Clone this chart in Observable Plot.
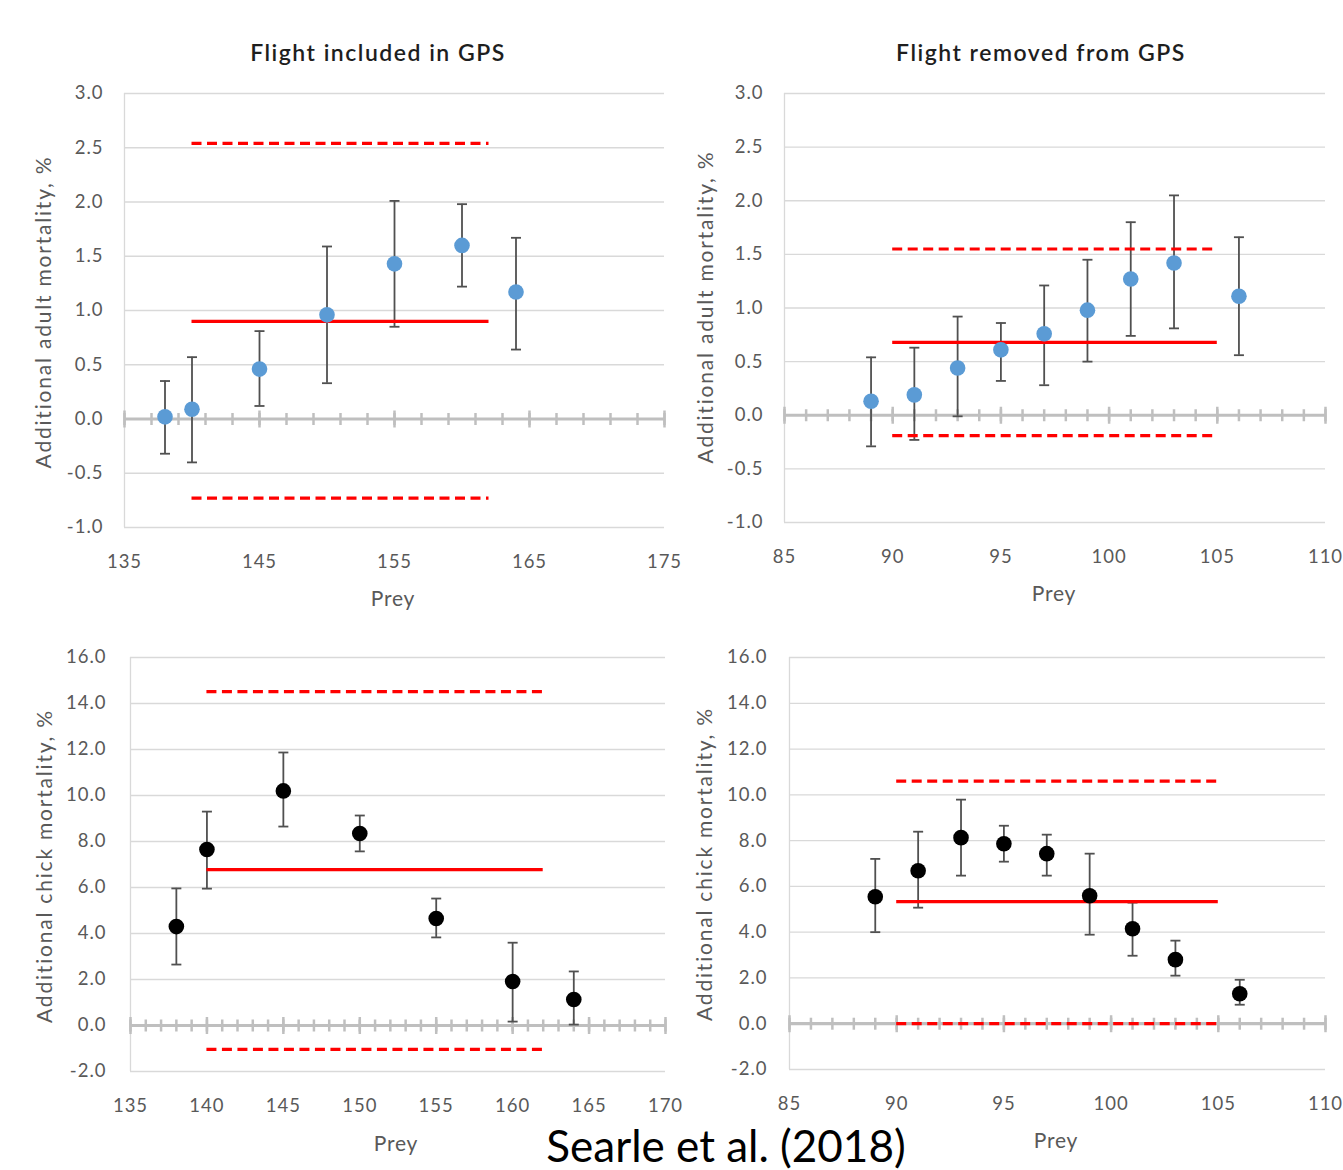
<!DOCTYPE html>
<html>
<head>
<meta charset="utf-8">
<script src="https://cdn.jsdelivr.net/npm/d3@7"></script>
<script src="https://cdn.jsdelivr.net/npm/@observablehq/plot@0.6"></script>
<style>
  html, body { margin: 0; padding: 0; background: #fff; }
  #wrap { position: relative; width: 1343px; height: 1170px; overflow: hidden; background: #fff; }
  .panel { position: absolute; }
  .panel svg text { letter-spacing: 1px; }
  #overlay { position: absolute; left: 0; top: 0; pointer-events: none; }
</style>
</head>
<body>
<div id="wrap">
  <div class="panel" id="p1" style="left:0px;top:70px"></div>
  <div class="panel" id="p2" style="left:680px;top:70px"></div>
  <div class="panel" id="p3" style="left:0px;top:630px"></div>
  <div class="panel" id="p4" style="left:680px;top:630px"></div>
  <svg id="overlay" width="1343" height="1170"></svg>
</div>
<script>
// ---------- DATA ----------
// Adult mortality, flight included in GPS
const adultInPrey = [138, 140, 145, 150, 155, 160, 164];
const adultInMean = [0.02, 0.09, 0.46, 0.96, 1.43, 1.60, 1.17];
const adultInLo   = [-0.32, -0.40, 0.12, 0.33, 0.85, 1.22, 0.64];
const adultInHi   = [0.35, 0.57, 0.81, 1.59, 2.01, 1.98, 1.67];
const adultInRef  = { mean: 0.90, upper: 2.54, lower: -0.73, from: 140, to: 162 };

// Adult mortality, flight removed from GPS
const adultOutPrey = [89, 91, 93, 95, 97, 99, 101, 103, 106];
const adultOutMean = [0.13, 0.19, 0.44, 0.61, 0.76, 0.98, 1.27, 1.42, 1.11];
const adultOutLo   = [-0.29, -0.23, -0.01, 0.32, 0.28, 0.50, 0.74, 0.81, 0.56];
const adultOutHi   = [0.54, 0.63, 0.92, 0.86, 1.21, 1.45, 1.80, 2.05, 1.66];
const adultOutRef  = { mean: 0.68, upper: 1.55, lower: -0.19, from: 90, to: 105 };

// Chick mortality, flight included in GPS
const chickInPrey = [138, 140, 145, 150, 155, 160, 164];
const chickInMean = [4.30, 7.65, 10.20, 8.35, 4.65, 1.91, 1.13];
const chickInLo   = [2.65, 5.95, 8.65, 7.57, 3.83, 0.17, 0.04];
const chickInHi   = [5.96, 9.30, 11.87, 9.13, 5.52, 3.60, 2.35];
const chickInRef  = { mean: 6.78, upper: 14.52, lower: -1.04, from: 140, to: 162 };

// Chick mortality, flight removed from GPS
const chickOutPrey = [89, 91, 93, 95, 97, 99, 101, 103, 106];
const chickOutMean = [5.55, 6.68, 8.13, 7.86, 7.43, 5.59, 4.15, 2.80, 1.31];
const chickOutLo   = [4.00, 5.07, 6.47, 7.08, 6.47, 3.89, 2.97, 2.10, 0.83];
const chickOutHi   = [7.20, 8.39, 9.79, 8.65, 8.26, 7.43, 5.29, 3.63, 1.92];
const chickOutRef  = { mean: 5.33, upper: 10.60, lower: 0.00, from: 90, to: 105 };

// Tick labels
const yTicksAdult = [-1.0, -0.5, 0.0, 0.5, 1.0, 1.5, 2.0, 2.5, 3.0];
const yTicksChick = [-2.0, 0.0, 2.0, 4.0, 6.0, 8.0, 10.0, 12.0, 14.0, 16.0];
const xTicksIn1 = [135, 145, 155, 165, 175];
const xTicksOut = [85, 90, 95, 100, 105, 110];
const xTicksIn2 = [135, 140, 145, 150, 155, 160, 165, 170];

// Texts
const titles = ["Flight included in GPS", "Flight removed from GPS"];
const yLabelAdult = "Additional adult mortality, %";
const yLabelChick = "Additional chick mortality, %";
const xLabel = "Prey";
const caption = "Searle et al. (2018)";

// ---------- STYLE ----------
const GRID = "#d9d9d9", AXIS0 = "#bfbfbf", TXT = "#595959", RED = "#ff0000", BAR = "#505050";
const vbar = h => ({ draw(ctx) { ctx.moveTo(0, -h); ctx.lineTo(0, h); } });
const hbar = w => ({ draw(ctx) { ctx.moveTo(-w, 0); ctx.lineTo(w, 0); } });

function panel(o) {
  const rows = o.prey.map((p, i) => ({ prey: p, mean: o.mean[i], lo: o.lo[i], hi: o.hi[i] }));
  const solid = [{ y: o.ref.mean, x1: o.ref.from, x2: o.ref.to }];
  const dashed = [
    { y: o.ref.upper, x1: o.ref.from, x2: o.ref.to },
    { y: o.ref.lower, x1: o.ref.from, x2: o.ref.to }
  ];
  const minor = d3.range(o.x[0], o.x[1] + 0.001, o.minorStep);
  const major = d3.range(o.x[0], o.x[1] + 0.001, o.majorStep);
  return Plot.plot({
    width: o.width, height: o.height,
    marginTop: o.m[0], marginRight: o.m[1], marginBottom: o.m[2], marginLeft: o.m[3],
    x: { domain: o.x },
    y: { domain: o.y },
    style: { background: "transparent", fontFamily: "Lato, 'Open Sans', sans-serif", fontSize: "18.5px", color: TXT, overflow: "visible" },
    marks: [
      Plot.gridY({ ticks: o.yTicks, stroke: GRID, strokeOpacity: 1, strokeWidth: 1.3 }),
      Plot.ruleX([o.x[0]], { stroke: GRID, strokeWidth: 1.3 }),
      Plot.axisY({ ticks: o.yTicks, tickFormat: d => d.toFixed(1), tickSize: 0, tickPadding: o.yPad, label: null, fill: TXT }),
      Plot.axisX({ ticks: o.xTicks, tickFormat: d => String(d), tickSize: 0, tickPadding: 27, label: null, fill: TXT }),
      Plot.ruleY([0], { stroke: AXIS0, strokeWidth: 3.2 }),
      Plot.dot(minor, { x: d => d, y: () => 0, symbol: vbar(6), stroke: AXIS0, strokeWidth: 2.5, fill: "none" }),
      Plot.dot(major, { x: d => d, y: () => 0, symbol: vbar(8.5), stroke: AXIS0, strokeWidth: 2.5, fill: "none" }),
      Plot.ruleX(rows, { x: "prey", y1: "lo", y2: "hi", stroke: BAR, strokeWidth: 1.8 }),
      Plot.dot(rows, { x: "prey", y: "lo", symbol: hbar(5), stroke: BAR, strokeWidth: 1.8, fill: "none" }),
      Plot.dot(rows, { x: "prey", y: "hi", symbol: hbar(5), stroke: BAR, strokeWidth: 1.8, fill: "none" }),
      Plot.ruleY(dashed, { y: "y", x1: "x1", x2: "x2", stroke: RED, strokeWidth: 3.2, strokeDasharray: "10,5.5" }),
      Plot.ruleY(solid, { y: "y", x1: "x1", x2: "x2", stroke: RED, strokeWidth: 3.2 }),
      Plot.dot(rows, { x: "prey", y: "mean", r: 7.8, fill: o.color, stroke: "none" })
    ]
  });
}

document.getElementById("p1").append(panel({
  prey: adultInPrey, mean: adultInMean, lo: adultInLo, hi: adultInHi, ref: adultInRef,
  width: 680, height: 560, m: [23, 16, 103, 124], x: [135, 175], y: [-1, 3],
  xTicks: xTicksIn1, yTicks: yTicksAdult, yPad: 21, minorStep: 2, majorStep: 10, color: "#5b9bd5"
}));
document.getElementById("p2").append(panel({
  prey: adultOutPrey, mean: adultOutMean, lo: adultOutLo, hi: adultOutHi, ref: adultOutRef,
  width: 663, height: 560, m: [23, 18, 108, 104], x: [85, 110], y: [-1, 3],
  xTicks: xTicksOut, yTicks: yTicksAdult, yPad: 21, minorStep: 1, majorStep: 5, color: "#5b9bd5"
}));
document.getElementById("p3").append(panel({
  prey: chickInPrey, mean: chickInMean, lo: chickInLo, hi: chickInHi, ref: chickInRef,
  width: 680, height: 540, m: [27, 15, 99, 130], x: [135, 170], y: [-2, 16],
  xTicks: xTicksIn2, yTicks: yTicksChick, yPad: 24, minorStep: 1, majorStep: 5, color: "#000000"
}));
document.getElementById("p4").append(panel({
  prey: chickOutPrey, mean: chickOutMean, lo: chickOutLo, hi: chickOutHi, ref: chickOutRef,
  width: 663, height: 540, m: [27, 18, 101, 109], x: [85, 110], y: [-2, 16],
  xTicks: xTicksOut, yTicks: yTicksChick, yPad: 22, minorStep: 1, majorStep: 5, color: "#000000"
}));

// ---------- overlay texts ----------
const ov = d3.select("#overlay");
const font = "Lato, 'Open Sans', sans-serif";
[[titles[0], 378], [titles[1], 1041]].forEach(([t, x]) => {
  ov.append("text").attr("x", x).attr("y", 61).attr("text-anchor", "middle")
    .attr("font-family", font).attr("font-size", 23).attr("font-weight", 600)
    .attr("letter-spacing", 1.5)
    .attr("fill", "#1e1e1e").text(t);
});
[[yLabelAdult, 51, 312], [yLabelAdult, 713, 307], [yLabelChick, 52, 866], [yLabelChick, 712, 864]].forEach(([t, x, y]) => {
  ov.append("text").attr("transform", `translate(${x},${y}) rotate(-90)`).attr("text-anchor", "middle")
    .attr("font-family", font).attr("font-size", 21).attr("letter-spacing", 1.8)
    .attr("fill", TXT).text(t);
});
[[393, 606], [1054, 601], [396, 1151], [1056, 1148]].forEach(([x, y]) => {
  ov.append("text").attr("x", x).attr("y", y).attr("text-anchor", "middle")
    .attr("font-family", font).attr("font-size", 21).attr("letter-spacing", 0.8)
    .attr("fill", TXT).text(xLabel);
});
ov.append("text").attr("x", 726).attr("y", 1162).attr("text-anchor", "middle")
  .attr("font-family", font).attr("font-size", 44).attr("fill", "#000").text(caption);
</script>
</body>
</html>
